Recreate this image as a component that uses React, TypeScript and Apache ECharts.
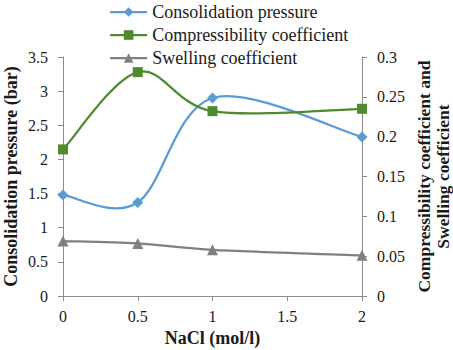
import React, { useEffect, useRef } from "react";
import * as echarts from "echarts";

const naclValues = [0, 0.5, 1, 2];
const consolidationPressure = [1.48, 1.37, 2.9, 2.33];
const compressibilityCoefficient = [0.184, 0.281, 0.232, 0.235];
const swellingCoefficient = [0.069, 0.066, 0.058, 0.051];

const seriesNames = ["Consolidation pressure", "Compressibility coefficient", "Swelling coefficient"];
const seriesColors = ["#5b9bd5", "#4f8a2f", "#808080"];

const FONT = "'Liberation Serif', 'Times New Roman', serif";
const TXT = "#1a1a1a";
const AXIS = "#8c8c8c";

// Excel-like smoothed curve (Catmull-Rom / Bezier, tension 1/6) through pixel coords
function smoothPath(pts: number[][]): string {
  let d = `M${pts[0][0]},${pts[0][1]}`;
  for (let i = 0; i < pts.length - 1; i++) {
    const p0 = pts[i - 1] || pts[i];
    const p1 = pts[i];
    const p2 = pts[i + 1];
    const p3 = pts[i + 2] || p2;
    const c1x = p1[0] + (p2[0] - p0[0]) / 6;
    const c1y = p1[1] + (p2[1] - p0[1]) / 6;
    const c2x = p2[0] - (p3[0] - p1[0]) / 6;
    const c2y = p2[1] - (p3[1] - p1[1]) / 6;
    d += ` C${c1x},${c1y} ${c2x},${c2y} ${p2[0]},${p2[1]}`;
  }
  return d;
}

export default function App() {
  const ref = useRef<HTMLDivElement>(null);
  useEffect(() => {
    if (!ref.current) return;
    const chart = echarts.init(ref.current, undefined, { renderer: "svg" });
    const pair = (ys: number[]) => naclValues.map((x, i) => [x, ys[i]]);
    const allValues = [consolidationPressure, compressibilityCoefficient, swellingCoefficient];
    const axisIdx = [0, 1, 1];

    const curveSeries = allValues.map((ys, k) => ({
      type: "custom",
      yAxisIndex: axisIdx[k],
      data: pair(ys),
      silent: true,
      z: 1,
      renderItem: (params: any, api: any) => {
        if (params.dataIndex !== 0) return null;
        const pts = naclValues.map((x, i) => api.coord([x, ys[i]]));
        return {
          type: "path",
          shape: { pathData: smoothPath(pts) },
          style: { stroke: seriesColors[k], lineWidth: 2.25, fill: "none" },
        };
      },
    }));

    const markerSeries = allValues.map((ys, k) => ({
      name: seriesNames[k],
      type: "line",
      yAxisIndex: axisIdx[k],
      data: pair(ys),
      symbol: ["diamond", "rect", "triangle"][k],
      symbolSize: [11, 10, 11][k],
      itemStyle: { color: seriesColors[k] },
      lineStyle: { color: seriesColors[k], width: 0, opacity: 0 },
      z: 3,
    }));

    chart.setOption({
      animation: false,
      textStyle: { fontFamily: FONT },
      legend: {
        orient: "vertical",
        left: 109,
        top: 3,
        padding: 0,
        itemWidth: 37,
        itemHeight: 12,
        itemGap: 5,
        lineStyle: { width: 2.25, opacity: 1 },
        textStyle: { fontFamily: FONT, fontSize: 18, lineHeight: 18, color: TXT },
        data: seriesNames,
      },
      grid: { left: 63, right: 91, top: 57, bottom: 54, outerBoundsMode: "none", containLabel: false },
      xAxis: {
        type: "value",
        min: 0,
        max: 2,
        interval: 0.5,
        name: "NaCl (mol/l)",
        nameLocation: "middle",
        nameGap: 33,
        nameMoveOverlap: false,
        nameTextStyle: { fontFamily: FONT, fontSize: 18, fontWeight: "bold", color: TXT },
        axisLine: { lineStyle: { color: AXIS } },
        axisTick: { show: true, length: 5, lineStyle: { color: AXIS } },
        axisLabel: { fontFamily: FONT, fontSize: 16, color: TXT, margin: 12 },
        splitLine: { show: false },
      },
      yAxis: [
        {
          type: "value",
          min: 0,
          max: 3.5,
          interval: 0.5,
          position: "left",
          name: "Consolidation pressure (bar)",
          nameLocation: "middle",
          nameRotate: 90,
          nameGap: 43,
          nameMoveOverlap: false,
          nameTextStyle: { fontFamily: FONT, fontSize: 18, fontWeight: "bold", color: TXT },
          axisLine: { show: true, lineStyle: { color: AXIS } },
          axisTick: { show: true, length: 5, lineStyle: { color: AXIS } },
          axisLabel: { fontFamily: FONT, fontSize: 16, color: TXT, margin: 15 },
          splitLine: { show: false },
        },
        {
          type: "value",
          min: 0,
          max: 0.3,
          interval: 0.05,
          position: "right",
          name: "Compressibility coefficient and\nSwelling coefficient",
          nameLocation: "middle",
          nameRotate: 90,
          nameGap: 52,
          nameMoveOverlap: false,
          nameTextStyle: { fontFamily: FONT, fontSize: 17.5, fontWeight: "bold", color: TXT, lineHeight: 19 },
          axisLine: { show: true, lineStyle: { color: AXIS } },
          axisTick: { show: true, length: 5, lineStyle: { color: AXIS } },
          axisLabel: { fontFamily: FONT, fontSize: 16, color: TXT, margin: 15 },
          splitLine: { show: false },
        },
      ],
      series: [...curveSeries, ...markerSeries],
    });
    return () => chart.dispose();
  }, []);
  return <div ref={ref} style={{ position: "absolute", left: 0, top: 0, width: 453, height: 350 }} />;
}
